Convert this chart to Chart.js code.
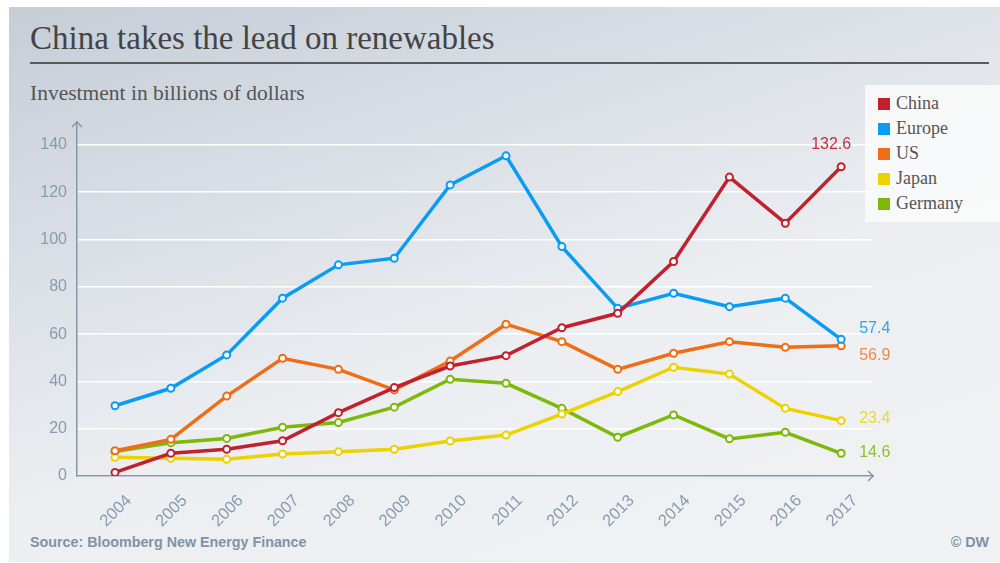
<!DOCTYPE html>
<html>
<head>
<meta charset="utf-8">
<script src="https://cdn.jsdelivr.net/npm/chart.js@4"></script>
<style>
  html, body { margin: 0; padding: 0; width: 1000px; height: 563px; background: #fff; overflow: hidden; }
  #panel {
    position: absolute; left: 9px; top: 7px; width: 991px; height: 555px;
    background: linear-gradient(162deg, #c5cdd7 0%, #dde2e8 35%, #eceef1 58%, #f1f2f4 100%);
  }
  #title {
    position: absolute; left: 30px; top: 20px; font: 33px "Liberation Serif", serif; color: #444;
    white-space: nowrap;
  }
  #rule { position: absolute; left: 30px; top: 62px; width: 959px; height: 2px; background: #5a5a5a; }
  #subtitle {
    position: absolute; left: 30px; top: 81px; font: 21.5px "Liberation Serif", serif; color: #555;
    white-space: nowrap;
  }
  #legend {
    position: absolute; left: 865px; top: 85px; width: 135px; height: 137px;
    background: rgba(250, 251, 252, 0.85);
  }
  .item { position: absolute; left: 13px; height: 20px; font: 18px "Liberation Serif", serif; color: #555; white-space: nowrap; }
  .item span { display: inline-block; width: 12px; height: 12px; margin-right: 6px; vertical-align: -1px; }
  #source {
    position: absolute; left: 30px; top: 534px; font: bold 14.3px "Liberation Sans", sans-serif; color: #7f93a6;
  }
  #copy {
    position: absolute; right: 11px; top: 534px; font: bold 14.3px "Liberation Sans", sans-serif; color: #7f93a6;
  }
  canvas { position: absolute; left: 0; top: 0; }
</style>
</head>
<body>
<div id="panel"></div>
<div id="title">China takes the lead on renewables</div>
<div id="rule"></div>
<div id="subtitle">Investment in billions of dollars</div>
<div id="legend"></div>
<div id="source">Source: Bloomberg New Energy Finance</div>
<div id="copy">© DW</div>
<canvas id="chart" width="1000" height="563"></canvas>
<script>
const years = [2004, 2005, 2006, 2007, 2008, 2009, 2010, 2011, 2012, 2013, 2014, 2015, 2016, 2017];

const china   = [1.5, 9.6, 11.3, 14.9, 26.8, 37.4, 46.5, 50.9, 62.7, 68.8, 90.7, 126.4, 106.9, 130.8];
const europe  = [29.7, 37.1, 51.2, 75.2, 89.3, 92.1, 123.1, 135.4, 97.0, 70.9, 77.3, 71.6, 75.2, 57.8];
const us      = [10.7, 15.5, 33.8, 49.8, 45.1, 36.4, 48.6, 64.2, 56.8, 45.1, 51.9, 56.8, 54.4, 55.1];
const japan   = [7.9, 7.5, 7.1, 9.3, 10.3, 11.3, 14.8, 17.3, 26.2, 35.7, 46.0, 43.1, 28.6, 23.4];
const germany = [10.3, 14.1, 15.9, 20.6, 22.6, 29.1, 40.9, 39.2, 28.6, 16.4, 25.8, 15.7, 18.5, 9.6];

const seriesNames = ['China', 'Europe', 'US', 'Japan', 'Germany'];
const endLabels = ['132.6', '57.4', '56.9', '23.4', '14.6'];
const yTicks = [0, 20, 40, 60, 80, 100, 120, 140];

const colors = ['#c1202f', '#0a9cf5', '#ee6d15', '#ebd200', '#7db80a'];
const labelColors = ['#c8303e', '#2aa6f2', '#f08a42', '#eed82a', '#8dc22a'];
// where each end label sits relative to the last point
const labelShift = [
  { dx: -10, dy: -22, align: 'center' },
  { dx: 18, dy: -11, align: 'left' },
  { dx: 18, dy: 10, align: 'left' },
  { dx: 18, dy: -2, align: 'left' },
  { dx: 18, dy: -1, align: 'left' },
];

const allSeries = [china, europe, us, japan, germany];

// legend
const legendBox = document.getElementById('legend');
seriesNames.forEach(function (name, i) {
  const div = document.createElement('div');
  div.className = 'item';
  div.style.top = (8 + i * 25) + 'px';
  div.innerHTML = '<span style="background:' + colors[i] + '"></span>' + name;
  legendBox.appendChild(div);
});

const axisColor = '#8797a8';
const tickColor = '#8a9bb0';

const arrows = {
  id: 'arrows',
  afterDraw(chart) {
    const ctx = chart.ctx;
    const a = chart.chartArea;
    ctx.save();
    ctx.strokeStyle = axisColor;
    ctx.lineWidth = 1.5;
    ctx.beginPath();
    ctx.moveTo(a.left - 5, a.top + 5);
    ctx.lineTo(a.left, a.top);
    ctx.lineTo(a.left + 5, a.top + 5);
    ctx.moveTo(a.right - 5, a.bottom - 5);
    ctx.lineTo(a.right, a.bottom);
    ctx.lineTo(a.right - 5, a.bottom + 5);
    ctx.stroke();
    ctx.restore();
  }
};

const lastValues = {
  id: 'lastValues',
  afterDatasetsDraw(chart) {
    const ctx = chart.ctx;
    ctx.save();
    ctx.font = '16px "Liberation Sans", sans-serif';
    ctx.textBaseline = 'middle';
    chart.data.datasets.forEach(function (ds, i) {
      const meta = chart.getDatasetMeta(i);
      const pt = meta.data[meta.data.length - 1];
      const s = labelShift[i];
      ctx.fillStyle = labelColors[i];
      ctx.textAlign = s.align;
      ctx.fillText(endLabels[i], pt.x + s.dx, pt.y + s.dy);
    });
    ctx.restore();
  }
};

const datasets = seriesNames.map(function (name, i) {
  return {
    label: name,
    data: years.map(function (y, j) { return { x: y, y: allSeries[i][j] }; }),
    borderColor: colors[i],
    backgroundColor: '#ffffff',
    pointBackgroundColor: '#ffffff',
    pointBorderColor: colors[i],
    borderWidth: 3.5,
    pointRadius: 3.5,
    pointBorderWidth: 2,
    tension: 0,
  };
});

new Chart(document.getElementById('chart'), {
  type: 'line',
  data: { datasets: datasets },
  options: {
    responsive: false,
    animation: false,
    layout: { padding: { top: 122, right: 127, left: 0, bottom: 0 } },
    plugins: {
      legend: { display: false },
      tooltip: { enabled: false },
    },
    scales: {
      x: {
        type: 'linear',
        min: 2003.32,
        max: 2017.57,
        afterFit(scale) { scale.height = 87; },
        afterBuildTicks(scale) { scale.ticks = years.map(function (y) { return { value: y }; }); },
        ticks: {
          autoSkip: false,
          minRotation: 45,
          maxRotation: 45,
          padding: 7,
          labelOffset: 14,
          color: tickColor,
          font: { family: 'Liberation Sans', size: 16.5 },
          callback: function (v) { return String(v); },
        },
        grid: { display: false },
        border: { display: true, color: axisColor, width: 1.5 },
      },
      y: {
        min: 0,
        max: 149.7,
        afterFit(scale) { scale.width = 77; },
        afterBuildTicks(scale) { scale.ticks = yTicks.map(function (v) { return { value: v }; }); },
        ticks: {
          padding: 10,
          color: tickColor,
          font: { family: 'Liberation Sans', size: 16 },
        },
        grid: { color: '#ffffff', lineWidth: 1.5, drawTicks: false },
        border: { display: true, color: axisColor, width: 1.5 },
      },
    },
  },
  plugins: [arrows, lastValues],
});
</script>
</body>
</html>
